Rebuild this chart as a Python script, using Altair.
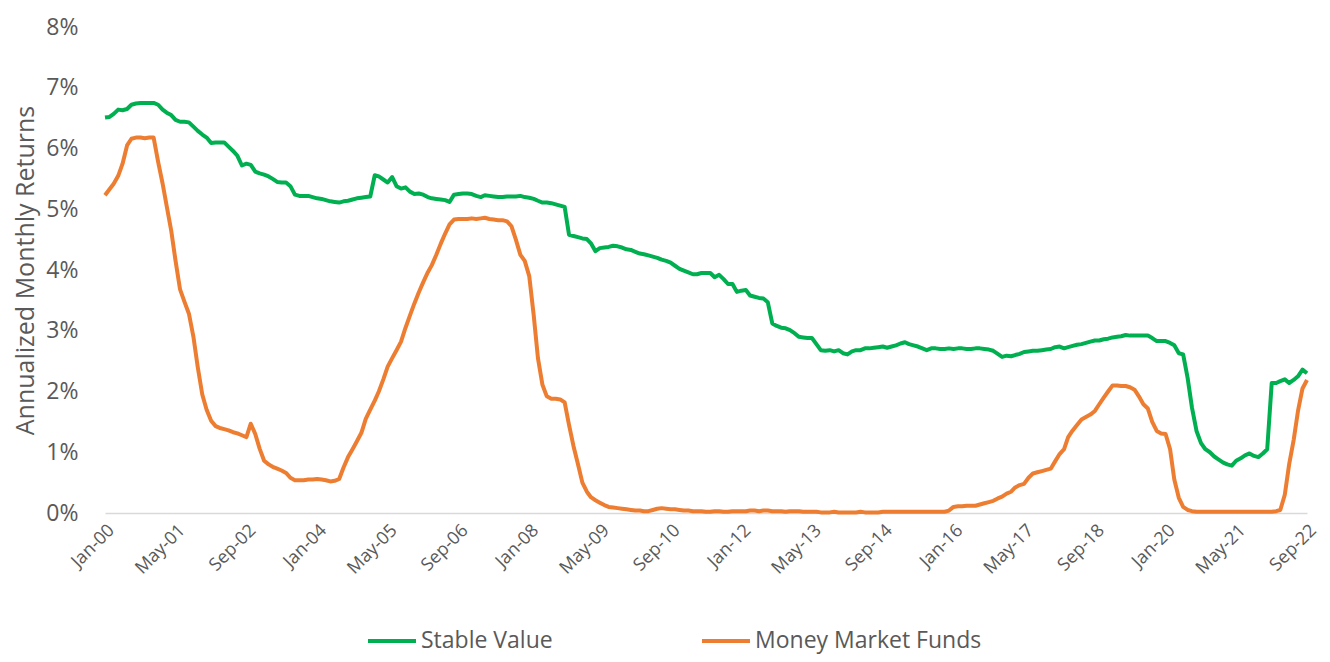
import altair as alt
import pandas as pd

# Monthly dates Jan-2000 .. Sep-2022
dates = pd.date_range("2000-01-01", "2022-09-01", freq="MS").strftime("%Y-%m-%d").tolist()

stable_value = [
    6.51, 6.52, 6.57, 6.64, 6.63, 6.65, 6.72, 6.74, 6.75, 6.75, 6.75, 6.75,
    6.72, 6.64, 6.59, 6.55, 6.47, 6.44, 6.44, 6.43, 6.36, 6.29, 6.23, 6.18,
    6.09, 6.10, 6.10, 6.10, 6.03, 5.96, 5.88, 5.72, 5.75, 5.73, 5.62, 5.59,
    5.57, 5.54, 5.50, 5.45, 5.44, 5.44, 5.38, 5.24, 5.22, 5.22, 5.22, 5.20,
    5.18, 5.17, 5.15, 5.13, 5.12, 5.11, 5.13, 5.14, 5.16, 5.18, 5.19, 5.20,
    5.21, 5.56, 5.54, 5.49, 5.44, 5.53, 5.38, 5.34, 5.36, 5.29, 5.25, 5.26,
    5.24, 5.20, 5.18, 5.17, 5.16, 5.15, 5.12, 5.24, 5.25, 5.26, 5.26, 5.25,
    5.22, 5.20, 5.23, 5.22, 5.21, 5.20, 5.20, 5.21, 5.21, 5.21, 5.22, 5.20,
    5.19, 5.17, 5.14, 5.11, 5.11, 5.10, 5.08, 5.06, 5.04, 4.58, 4.56, 4.54,
    4.52, 4.51, 4.44, 4.31, 4.36, 4.37, 4.38, 4.40, 4.39, 4.37, 4.34, 4.33,
    4.30, 4.27, 4.26, 4.24, 4.22, 4.20, 4.17, 4.15, 4.12, 4.07, 4.02, 3.99,
    3.96, 3.93, 3.93, 3.95, 3.95, 3.95, 3.88, 3.92, 3.85, 3.77, 3.77, 3.64,
    3.66, 3.67, 3.58, 3.56, 3.54, 3.53, 3.47, 3.12, 3.08, 3.05, 3.04, 3.01,
    2.96, 2.90, 2.89, 2.88, 2.88, 2.78, 2.68, 2.67, 2.68, 2.66, 2.68, 2.63,
    2.61, 2.66, 2.68, 2.68, 2.71, 2.71, 2.72, 2.73, 2.74, 2.72, 2.74, 2.76,
    2.79, 2.81, 2.78, 2.76, 2.74, 2.71, 2.68, 2.71, 2.71, 2.70, 2.70, 2.71,
    2.70, 2.71, 2.71, 2.70, 2.70, 2.71, 2.71, 2.70, 2.69, 2.67, 2.62, 2.57,
    2.59, 2.58, 2.60, 2.62, 2.65, 2.66, 2.67, 2.67, 2.68, 2.69, 2.70, 2.73,
    2.74, 2.71, 2.73, 2.75, 2.77, 2.78, 2.80, 2.82, 2.84, 2.84, 2.86, 2.87,
    2.89, 2.90, 2.91, 2.93, 2.92, 2.92, 2.92, 2.92, 2.92, 2.88, 2.83, 2.83,
    2.83, 2.80, 2.76, 2.63, 2.61, 2.22, 1.73, 1.35, 1.15, 1.05, 1.00, 0.93,
    0.88, 0.83, 0.80, 0.78, 0.86, 0.90, 0.95, 0.98, 0.94, 0.92, 0.98, 1.05,
    2.14, 2.14, 2.17, 2.20, 2.14, 2.19, 2.25, 2.36, 2.30,
]

money_market = [
    5.23, 5.33, 5.42, 5.55, 5.75, 6.05, 6.16, 6.18, 6.18, 6.17, 6.18, 6.18,
    5.78, 5.42, 5.05, 4.65, 4.15, 3.68, 3.48, 3.28, 2.90, 2.40, 1.95, 1.70,
    1.52, 1.43, 1.40, 1.38, 1.36, 1.33, 1.31, 1.28, 1.25, 1.47, 1.30, 1.06,
    0.86, 0.80, 0.76, 0.73, 0.70, 0.66, 0.58, 0.54, 0.54, 0.54, 0.55, 0.55,
    0.56, 0.55, 0.54, 0.52, 0.53, 0.56, 0.75, 0.92, 1.05, 1.18, 1.32, 1.55,
    1.70, 1.85, 2.00, 2.20, 2.41, 2.55, 2.68, 2.82, 3.05, 3.25, 3.45, 3.63,
    3.80, 3.96, 4.08, 4.25, 4.43, 4.60, 4.75, 4.83, 4.84, 4.84, 4.84, 4.85,
    4.84, 4.85, 4.86, 4.84, 4.83, 4.82, 4.82, 4.80, 4.72, 4.50, 4.25, 4.15,
    3.90, 3.25, 2.55, 2.11, 1.92, 1.88, 1.88, 1.87, 1.82, 1.45, 1.10, 0.81,
    0.50, 0.35, 0.26, 0.21, 0.17, 0.13, 0.10, 0.09, 0.08, 0.07, 0.06, 0.05,
    0.04, 0.04, 0.03, 0.03, 0.05, 0.07, 0.08, 0.07, 0.06, 0.06, 0.05, 0.04,
    0.04, 0.03, 0.03, 0.03, 0.02, 0.02, 0.03, 0.03, 0.02, 0.02, 0.03, 0.03,
    0.03, 0.03, 0.04, 0.04, 0.03, 0.04, 0.04, 0.03, 0.03, 0.03, 0.02, 0.03,
    0.03, 0.03, 0.02, 0.02, 0.02, 0.02, 0.01, 0.01, 0.01, 0.02, 0.01, 0.01,
    0.01, 0.01, 0.01, 0.02, 0.01, 0.01, 0.01, 0.01, 0.02, 0.02, 0.02, 0.02,
    0.02, 0.02, 0.02, 0.02, 0.02, 0.02, 0.02, 0.02, 0.02, 0.02, 0.02, 0.04,
    0.10, 0.11, 0.11, 0.12, 0.12, 0.12, 0.14, 0.16, 0.18, 0.20, 0.24, 0.27,
    0.32, 0.35, 0.42, 0.46, 0.48, 0.58, 0.65, 0.67, 0.69, 0.71, 0.73, 0.85,
    0.97, 1.05, 1.25, 1.36, 1.45, 1.54, 1.58, 1.62, 1.68, 1.79, 1.90, 2.00,
    2.10, 2.10, 2.09, 2.09, 2.07, 2.03, 1.92, 1.79, 1.72, 1.50, 1.35, 1.31,
    1.30, 1.05, 0.55, 0.25, 0.10, 0.05, 0.03, 0.02, 0.02, 0.02, 0.02, 0.02,
    0.02, 0.02, 0.02, 0.02, 0.02, 0.02, 0.02, 0.02, 0.02, 0.02, 0.02, 0.02,
    0.02, 0.03, 0.05, 0.30, 0.80, 1.20, 1.68, 2.05, 2.19,
]

series_names = ["Stable Value", "Money Market Funds"]
series_colors = ["#00B050", "#ED7D31"]

# x tick labels every 16 months (Jan-00 ... Sep-22)
tick_dates = [(2000, 1), (2001, 5), (2002, 9), (2004, 1), (2005, 5), (2006, 9),
              (2008, 1), (2009, 5), (2010, 9), (2012, 1), (2013, 5), (2014, 9),
              (2016, 1), (2017, 5), (2018, 9), (2020, 1), (2021, 5), (2022, 9)]
y_ticks = [0, 1, 2, 3, 4, 5, 6, 7, 8]

df = pd.DataFrame({
    "date": dates * 2,
    "value": stable_value + money_market,
    "series": [series_names[0]] * len(dates) + [series_names[1]] * len(dates),
    "order": [1] * len(dates) + [0] * len(dates),
})

FONT = "Open Sans"
GREY = "#595959"

chart = alt.Chart(df).mark_line(strokeWidth=4, strokeJoin="round").encode(
    x=alt.X(
        "date:T",
        scale=alt.Scale(type="utc", domain=[alt.DateTime(year=2000, month=1, date=1, utc=True),
                                            alt.DateTime(year=2022, month=9, date=1, utc=True)]),
        axis=alt.Axis(
            values=[alt.DateTime(year=y, month=m, date=1, utc=True) for y, m in tick_dates],
            labelExpr="utcFormat(datum.value, '%b-%y')", labelAngle=-45, labelFontSize=18,
            labelColor=GREY, labelFont=FONT, labelPadding=8, ticks=False, grid=False,
            domainColor="#D9D9D9", domainWidth=1.5, title=None, labelOverlap=False,
            labelBound=False, labelFlush=False,
        ),
    ),
    y=alt.Y(
        "value:Q",
        scale=alt.Scale(domain=[0, 8], nice=False),
        axis=alt.Axis(
            values=y_ticks, labelExpr="datum.value + '%'", labelFontSize=23,
            labelColor=GREY, labelFont=FONT, labelPadding=27, ticks=False, grid=False,
            domain=False, title="Annualized Monthly Returns", titleFontSize=25,
            titleFont=FONT, titleFontWeight="normal", titleColor=GREY,
            titleX=-80, titleY=243, titleAngle=-90, titleAlign="center", titleBaseline="middle",
            labelFlush=False,
        ),
    ),
    color=alt.Color(
        "series:N",
        scale=alt.Scale(domain=series_names, range=series_colors),
        sort=series_names,
        legend=alt.Legend(
            title=None, orient="none", legendX=261, legendY=588, direction="horizontal",
            columns=2, gridAlign="all", columnPadding=46, symbolType="stroke",
            symbolSize=2304, symbolStrokeWidth=4, labelFontSize=23, labelFont=FONT,
            labelColor=GREY, labelOffset=3, labelLimit=400, padding=0,
        ),
    ),
    order=alt.Order("order:Q"),
).properties(
    width=1202, height=486,
    padding={"left": 97, "top": 19, "right": 15, "bottom": 141},
    autosize=alt.AutoSizeParams(type="none"),
).configure_view(stroke=None)

chart.save("out.html", embed_options={"renderer": "svg", "actions": False})
